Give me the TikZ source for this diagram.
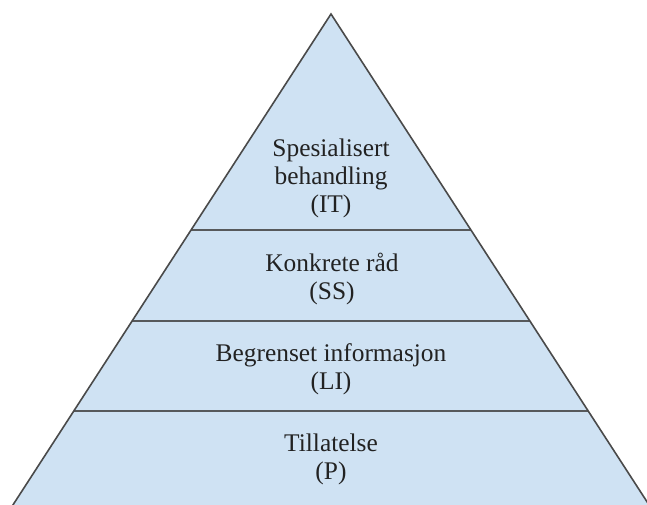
\documentclass[tikz,border=0pt]{standalone}
\usepackage{fontspec}
\setmainfont{Liberation Serif}
\definecolor{fillblue}{HTML}{CFE2F3}
\definecolor{edgegray}{HTML}{4A4A4A}
\definecolor{txt}{HTML}{222222}
\begin{document}
\begin{tikzpicture}[x=1pt,y=-1pt,
  edge/.style={draw=edgegray,line width=1.6pt,line join=miter},
  divider/.style={draw=edgegray!90!fillblue,line width=1.6pt},
  lbl/.style={align=center,text=txt,font=\fontsize{25.4}{28}\selectfont,inner sep=0pt}]
\useasboundingbox (0,0) rectangle (647,505);
\clip (0,0) rectangle (647,505);
\coordinate (apex) at (331,14);
\coordinate (bl) at (-2,528);
\coordinate (br) at (664,528);
\fill[fillblue] (apex) -- (br) -- (bl) -- cycle;
% dividers
\coordinate (l1) at (191,230); \coordinate (r1) at (471,230);
\coordinate (l2) at (132,321); \coordinate (r2) at (530,321);
\coordinate (l3) at (74,411);  \coordinate (r3) at (588,411);
\draw[divider] (l1) -- (r1);
\draw[divider] (l2) -- (r2);
\draw[divider] (l3) -- (r3);
\draw[edge] (bl) -- (apex) -- (br);
% labels
\node[lbl] (it) at (331,178) {Spesialisert\\behandling\\(IT)};
\node[lbl] (ss) at (332,279) {Konkrete råd\\(SS)};
\node[lbl] (li) at (331,369) {Begrenset informasjon\\(LI)};
\node[lbl] (p)  at (331,459) {Tillatelse\\(P)};
\end{tikzpicture}
\end{document}
